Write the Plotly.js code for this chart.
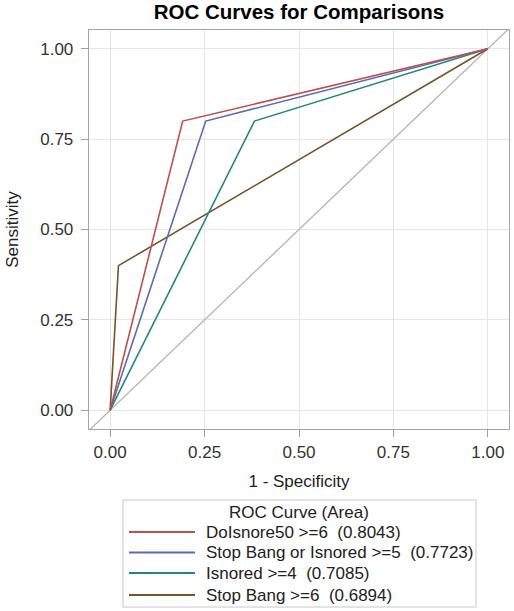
<!DOCTYPE html>
<html>
<head>
<meta charset="utf-8">
<script src="https://cdn.plot.ly/plotly-3.0.1.min.js"></script>
<style>html,body{margin:0;padding:0;background:#fff;}#chart{width:514px;height:611px;}</style>
</head>
<body>
<div id="chart"></div>
<script>
// ---- data ----
var seriesNames = ["DoIsnore50 >=6", "Stop Bang or Isnored >=5", "Isnored >=4", "Stop Bang >=6"];
var seriesAUC = ["0.8043", "0.7723", "0.7085", "0.6894"];
var fprDoIsnore = [0, 0.192, 1];
var tprDoIsnore = [0, 0.80, 1];
var fprStopBangOrIsnored = [0, 0.253, 1];
var tprStopBangOrIsnored = [0, 0.80, 1];
var fprIsnored = [0, 0.382, 1];
var tprIsnored = [0, 0.80, 1];
var fprStopBang = [0, 0.022, 1];
var tprStopBang = [0, 0.40, 1];
var chanceLine = [-0.2, 1.2];
var tickVals = [0, 0.25, 0.5, 0.75, 1];
var tickText = ["0.00", "0.25", "0.50", "0.75", "1.00"];
var legendTitle = "ROC Curve (Area)";
var chartTitle = "ROC Curves for Comparisons";
var xTitle = "1 - Specificity";
var yTitle = "Sensitivity";

// ---- styling ----
var colors = ["#bf4f4a", "#5b6ab8", "#23897a", "#7a5228"];
var fontFam = "Liberation Sans, Arial, sans-serif";
var W = 514, H = 611;
var mL = 89, mR = 5, mT = 30, mB = 182;
var plotW = W - mL - mR, plotH = H - mT - mB;
function px(x) { return (x - mL) / plotW; }
function py(y) { return (H - mB - y) / plotH; }

var xs = [fprDoIsnore, fprStopBangOrIsnored, fprIsnored, fprStopBang];
var ys = [tprDoIsnore, tprStopBangOrIsnored, tprIsnored, tprStopBang];

var traces = [{
  x: chanceLine, y: chanceLine, mode: "lines",
  line: {color: "#b4b4b4", width: 1.3}, hoverinfo: "skip", showlegend: false
}];
for (var i = xs.length - 1; i >= 0; i--) {
  traces.push({
    x: xs[i], y: ys[i], mode: "lines", name: seriesNames[i],
    line: {color: colors[i], width: 1.6}, showlegend: false
  });
}

// manual legend (SAS style)
var shapes = [{
  type: "rect", xref: "paper", yref: "paper",
  x0: px(123), x1: px(476), y0: py(500), y1: py(607),
  line: {color: "#c8c8c8", width: 1}, fillcolor: "rgba(0,0,0,0)"
}];
var annotations = [{
  xref: "paper", yref: "paper", x: px(299), y: py(512),
  text: legendTitle, showarrow: false, xanchor: "center", yanchor: "middle",
  font: {family: fontFam, size: 17, color: "#222"}
}];
var rowY = [532, 552.5, 573, 595];
for (var k = 0; k < seriesNames.length; k++) {
  shapes.push({
    type: "line", xref: "paper", yref: "paper",
    x0: px(129), x1: px(195), y0: py(rowY[k]), y1: py(rowY[k]),
    line: {color: colors[k], width: 2}
  });
  annotations.push({
    xref: "paper", yref: "paper", x: px(204), y: py(rowY[k]),
    text: seriesNames[k] + "  (" + seriesAUC[k] + ")", showarrow: false,
    xanchor: "left", yanchor: "middle",
    font: {family: fontFam, size: 17, color: "#222"}
  });
}

var axisCommon = {
  tickvals: tickVals, ticktext: tickText,
  ticks: "outside", ticklen: 7, tickwidth: 1, tickcolor: "#a0a0a0",
  showgrid: true, gridcolor: "#e6e6e6", gridwidth: 1,
  showline: true, linecolor: "#a3a6a9", linewidth: 1.3, mirror: true,
  zeroline: false, automargin: false,
  tickfont: {family: fontFam, size: 17, color: "#333"}
};

var layout = {
  width: W, height: H,
  margin: {l: mL, r: mR, t: mT, b: mB, pad: 0},
  paper_bgcolor: "#fff", plot_bgcolor: "#fff",
  showlegend: false,
  title: {
    text: "<b>" + chartTitle + "</b>", x: 0.5, xref: "paper",
    y: 1 - 12 / H, yref: "container", yanchor: "middle",
    font: {family: fontFam, size: 20.5, color: "#000"}
  },
  xaxis: Object.assign({}, axisCommon, {
    range: [-0.056, 1.056],
    title: {text: xTitle, standoff: 14, font: {family: fontFam, size: 17, color: "#222"}}
  }),
  yaxis: Object.assign({}, axisCommon, {
    range: [-0.052, 1.052],
    ticklabelstandoff: 4,
    title: {text: yTitle, standoff: 17, font: {family: fontFam, size: 17, color: "#222"}}
  }),
  shapes: shapes,
  annotations: annotations
};

Plotly.newPlot("chart", traces, layout, {staticPlot: true, displayModeBar: false});
</script>
</body>
</html>
